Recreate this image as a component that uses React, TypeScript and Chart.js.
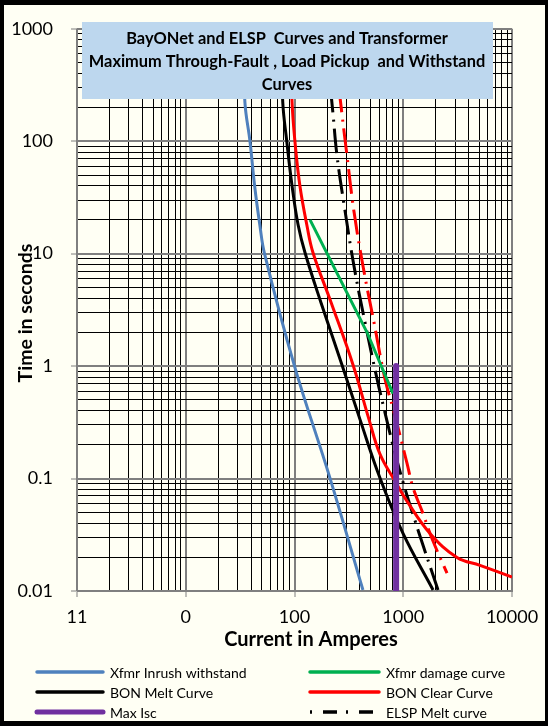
import { useEffect, useRef } from "react";
import { Chart, registerables } from "chart.js";

Chart.register(...registerables);

// ---- data (amperes / seconds) ----
const inrushI = [33.5, 35, 39, 43, 48, 53, 100, 212, 426];
const inrushT = [1000, 222, 99, 40, 18, 10, 1, 0.101, 0.0102];

const damageI = [139, 464, 805];
const damageT = [20, 2.0, 0.57];

const bonMeltI = [75, 78, 85, 95, 108, 125, 175, 273, 400, 611, 995, 1880];
const bonMeltT = [1000, 222, 99, 40, 18, 10.2, 3.68, 1.03, 0.336, 0.101, 0.0325, 0.0102];

const bonClearI = [92, 95, 101, 112, 130, 148, 217, 345, 484, 611, 840, 1082, 1762, 3120, 5080, 10000];
const bonClearT = [1000, 222, 99, 40.4, 17.9, 10.2, 3.68, 1.03, 0.336, 0.165, 0.095, 0.063, 0.0325, 0.0199, 0.0169, 0.0133];

const maxIscI = [860, 860];
const maxIscT = [1, 0.01];

const elspMeltI = [214, 226, 246, 291, 352, 445, 574, 670, 822, 1038, 1282, 1520, 2088];
const elspMeltT = [300, 175, 74.3, 24.3, 7.8, 2.45, 0.771, 0.408, 0.182, 0.081, 0.0423, 0.0255, 0.0102];

const elspClearI = [256, 273, 304, 352, 426, 538, 679, 805, 914, 1082, 1230, 1520, 1837, 2525];
const elspClearT = [300, 175, 74.3, 23.8, 7.8, 2.45, 0.771, 0.42, 0.263, 0.137, 0.083, 0.0488, 0.0293, 0.0144];

const xTickValues = [1, 10, 100, 1000, 10000];
const xTickLabels = ["11", "0", "100", "1000", "10000"];
const yTickValues = [0.01, 0.1, 1, 10, 100, 1000];
const yTickLabels = ["0.01", "0.1", "1", "10", "100", "1000"];

const titleLines = [
  "BayONet and ELSP  Curves and Transformer",
  "Maximum Through-Fault , Load Pickup  and Withstand",
  "Curves",
];
const xTitle = "Current in Amperes";
const yTitle = "Time in seconds";

const legendItems = [
  { label: "Xfmr Inrush withstand", color: "#4F81BD", width: 3.5, dash: [] as number[] },
  { label: "Xfmr damage curve", color: "#00B050", width: 3.5, dash: [] as number[] },
  { label: "BON Melt Curve", color: "#000000", width: 3.5, dash: [] as number[] },
  { label: "BON Clear Curve", color: "#FF0000", width: 3.5, dash: [] as number[] },
  { label: "Max Isc", color: "#7030A0", width: 5, dash: [] as number[] },
  { label: "ELSP Melt curve", color: "#000000", width: 3.5, dash: [2, 11, 14, 9] },
];

const FONT = "Lato, 'Open Sans', sans-serif";

const zip = (xs: number[], ys: number[]) => xs.map((x, i) => ({ x, y: ys[i] }));
const isMajor = (v: number) => Math.abs(Math.log10(v) - Math.round(Math.log10(v))) < 1e-6;
const logTicks = (min: number, max: number) => {
  const out: { value: number }[] = [];
  const e0 = Math.round(Math.log10(min));
  const e1 = Math.round(Math.log10(max));
  for (let e = e0; e < e1; e++) {
    for (let k = 1; k < 10; k++) out.push({ value: parseFloat((k * Math.pow(10, e)).toPrecision(6)) });
  }
  out.push({ value: max });
  return out;
};
const labelFor = (vals: number[], labels: string[], v: number) => {
  if (!isMajor(v)) return "";
  const i = vals.findIndex((t) => Math.abs(Math.log10(t) - Math.log10(v)) < 1e-6);
  return i >= 0 ? labels[i] : "";
};

const overlayPlugin = {
  id: "overlay",
  afterDraw(chart: any) {
    const ctx = chart.ctx as CanvasRenderingContext2D;
    ctx.save();
    // title box
    ctx.fillStyle = "#BDD7EE";
    ctx.fillRect(82, 22, 411, 77);
    ctx.fillStyle = "#000";
    ctx.font = `bold 16.4px ${FONT}`;
    ctx.textAlign = "center";
    ctx.textBaseline = "middle";
    const ys = [39, 62, 85];
    titleLines.forEach((t, i) => ctx.fillText(t, 287, ys[i]));

    // axis titles
    ctx.font = `bold 20px ${FONT}`;
    ctx.fillText(xTitle, 311, 640);
    ctx.save();
    ctx.translate(26, 313);
    ctx.rotate(-Math.PI / 2);
    ctx.font = `bold 19.5px ${FONT}`;
    ctx.fillText(yTitle, 0, 0);
    ctx.restore();

    // legend
    const colX = [37, 310];
    const colLen = [66, 69];
    const textX = [110, 386];
    const rowY = [672, 692, 712];
    ctx.font = `14px ${FONT}`;
    ctx.textAlign = "left";
    legendItems.forEach((it, i) => {
      const c = i % 2;
      const r = Math.floor(i / 2);
      const y = rowY[r];
      ctx.beginPath();
      ctx.strokeStyle = it.color;
      ctx.lineWidth = it.width;
      ctx.lineCap = it.dash.length ? "butt" : "round";
      ctx.setLineDash(it.dash);
      ctx.moveTo(colX[c], y);
      ctx.lineTo(colX[c] + colLen[c], y);
      ctx.stroke();
      ctx.setLineDash([]);
      ctx.fillStyle = "#000";
      ctx.fillText(it.label, textX[c], y + 1);
    });
    ctx.restore();
  },
};

export default function App() {
  const ref = useRef<HTMLCanvasElement>(null);
  useEffect(() => {
    if (!ref.current) return;
    const line = (label: string, data: any[], color: string, width: number, order: number, extra: any = {}) => ({
      label,
      data,
      borderColor: color,
      backgroundColor: color,
      borderWidth: width,
      pointRadius: 0,
      showLine: true,
      fill: false,
      tension: 0.4,
      order,
      ...extra,
    });
    const chart = new Chart(ref.current, {
      type: "scatter",
      data: {
        datasets: [
          line("Max Isc", zip(maxIscI, maxIscT), "#7030A0", 6, 0, { borderCapStyle: "round", tension: 0 }),
          line("Xfmr damage curve", zip(damageI, damageT), "#00B050", 3, 1, { tension: 0 }),
          line("BON Clear Curve", zip(bonClearI, bonClearT), "#FF0000", 3, 2),
          line("ELSP Clear curve", zip(elspClearI, elspClearT), "#FF0000", 3, 3, { borderDash: [25, 7, 2, 7] }),
          line("ELSP Melt curve", zip(elspMeltI, elspMeltT), "#000000", 3, 4, { borderDash: [25, 7, 2, 7] }),
          line("BON Melt Curve", zip(bonMeltI, bonMeltT), "#000000", 3, 5),
          line("Xfmr Inrush withstand", zip(inrushI, inrushT), "#4F81BD", 3, 6),
        ] as any,
      },
      options: {
        responsive: false,
        devicePixelRatio: 1,
        animation: false,
        layout: { padding: { left: 0, top: 24, right: 38, bottom: 0 } },
        plugins: { legend: { display: false }, tooltip: { enabled: false }, title: { display: false } },
        scales: {
          x: {
            type: "logarithmic",
            min: 1,
            max: 10000,
            afterBuildTicks: (s: any) => {
              s.ticks = logTicks(1, 10000);
            },
            afterFit: (s: any) => {
              s.height = 137;
            },
            border: { display: true, color: "#808080", width: 1 },
            grid: {
              color: (c: any) => (c.tick && isMajor(c.tick.value) ? "#7F7F7F" : "#000000"),
              lineWidth: (c: any) => (c.tick && isMajor(c.tick.value) ? 2 : 1),
              tickColor: (c: any) => (c.tick && isMajor(c.tick.value) ? "#7F7F7F" : "rgba(0,0,0,0)"),
              tickLength: 6,
              tickWidth: 1,
            },
            ticks: {
              autoSkip: false,
              maxRotation: 0,
              minRotation: 0,
              padding: 9,
              color: "#000",
              font: { family: FONT, size: 18 },
              callback: (v: any) => labelFor(xTickValues, xTickLabels, Number(v)),
            },
          },
          y: {
            type: "logarithmic",
            min: 0.01,
            max: 1000,
            afterBuildTicks: (s: any) => {
              s.ticks = logTicks(0.01, 1000);
            },
            afterFit: (s: any) => {
              s.width = 77;
            },
            border: { display: true, color: "#808080", width: 1 },
            grid: {
              color: (c: any) => (c.tick && isMajor(c.tick.value) ? "#7F7F7F" : "#000000"),
              lineWidth: (c: any) => (c.tick && isMajor(c.tick.value) ? 2 : 1),
              tickColor: (c: any) => (c.tick && isMajor(c.tick.value) ? "#7F7F7F" : "rgba(0,0,0,0)"),
              tickLength: 6,
              tickWidth: 1,
            },
            ticks: {
              autoSkip: false,
              padding: 18,
              color: "#000",
              font: { family: FONT, size: 18 },
              callback: (v: any) => labelFor(yTickValues, yTickLabels, Number(v)),
            },
          },
        },
      },
      plugins: [overlayPlugin],
    });
    return () => chart.destroy();
  }, []);

  return (
    <div style={{ position: "fixed", left: 0, top: 0, width: 550, height: 728, background: "#ffffff" }}>
      <div
        style={{
          position: "absolute",
          left: 0,
          top: 0,
          width: 548,
          height: 726,
          boxSizing: "border-box",
          borderStyle: "solid",
          borderColor: "#000",
          borderWidth: "5px 3px 5px 4px",
          background: "#FFFFF4",
        }}
      />
      <canvas ref={ref} width={550} height={728} style={{ position: "absolute", left: 0, top: 0 }} />
    </div>
  );
}
